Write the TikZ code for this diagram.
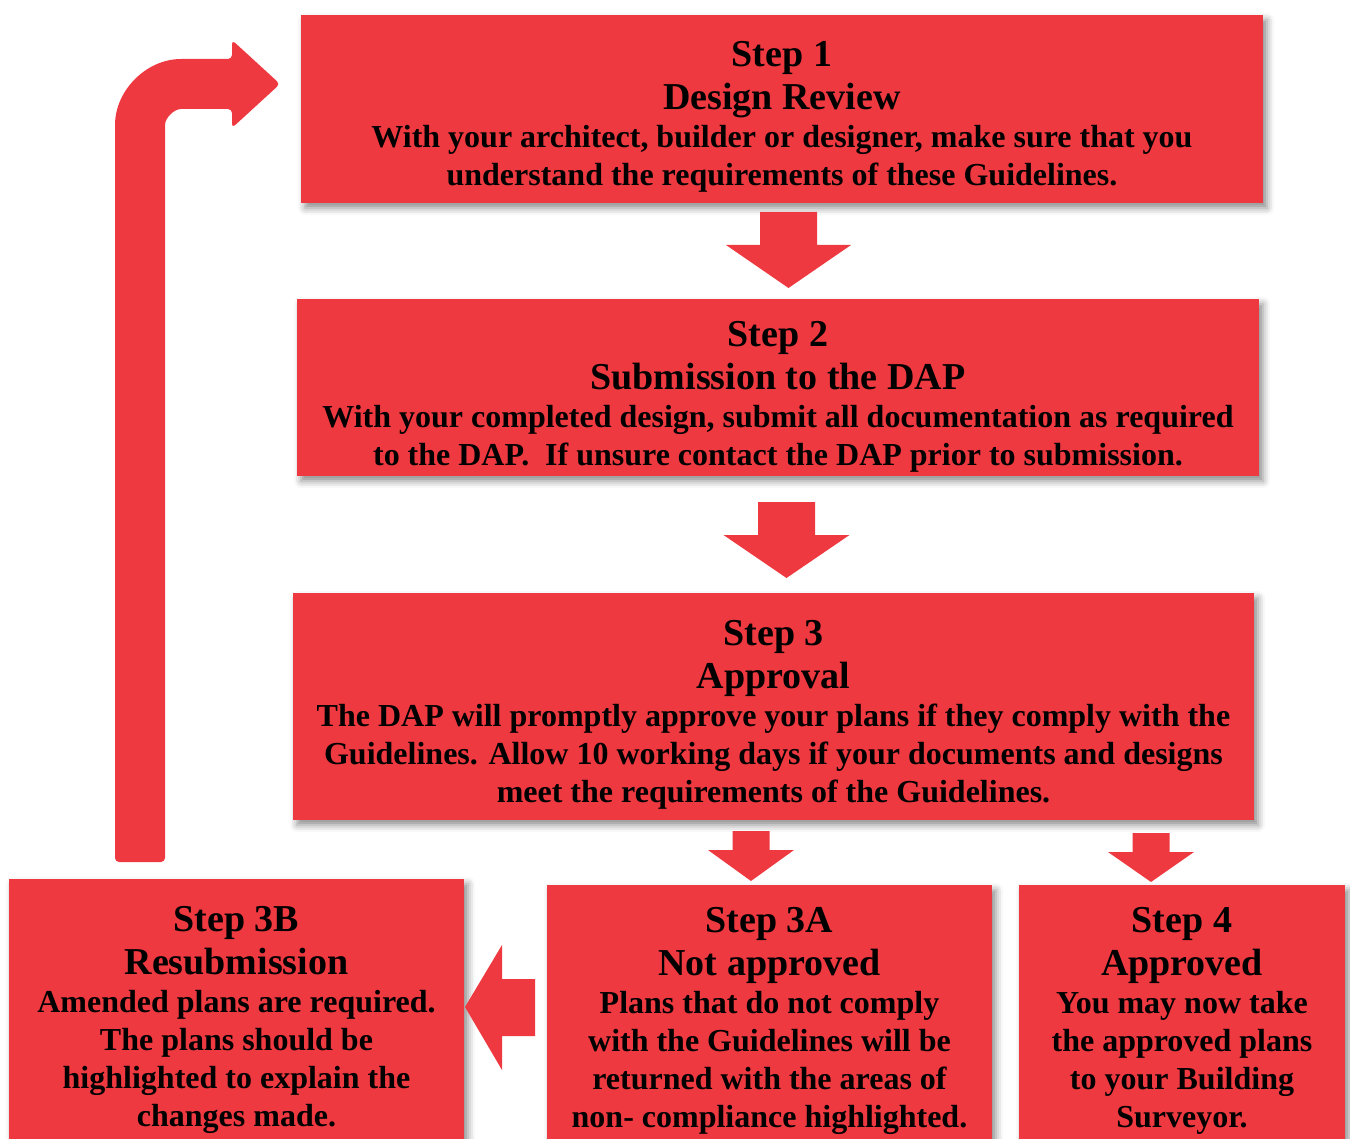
\documentclass[tikz,border=0pt]{standalone}
\usepackage{fontspec}
\setmainfont{Liberation Serif}
\usepackage{tikz}
\usetikzlibrary{shadows.blur}
\definecolor{dapred}{RGB}{239,57,64}
\tikzset{
  stepbox/.style={
    rectangle,
    fill=dapred,
    inner sep=0pt,
    text centered,
    align=center,
    font=\fontsize{32}{38}\selectfont\bfseries,
    blur shadow={shadow xshift=4pt, shadow yshift=-5pt, shadow blur radius=7pt, shadow opacity=45},
  },
  flow/.style={fill=dapred},
}
\newcommand{\steptitle}{\fontsize{38}{43}\selectfont}
% first title line, with a strut to set the text a little lower
\newcommand{\stepno}[2][32pt]{{\steptitle\rule{0pt}{#1}#2}}
% top centre, shaft half width, shaft length, head half width, head length
\newcommand{\blockdown}[5]{\fill[flow,shift={#1}] (-#2,0) -- (#2,0) -- (#2,#3) -- (#4,#3) -- (0,#3+#5) -- (-#4,#3) -- (-#2,#3) -- cycle;}

\begin{document}
\begin{tikzpicture}[x=1pt,y=-1pt]
  \useasboundingbox (0,0) rectangle (1350,1139);

  \node[stepbox, minimum width=962pt, minimum height=188pt] (S1) at (782,109)
    {\stepno[40pt]{Step 1}\\[5pt]{\steptitle Design Review}\\
     With your architect, builder or designer, make sure that you\\
     understand the requirements of these Guidelines.};
  \node[stepbox, minimum width=962pt, minimum height=177pt] (S2) at (778,387.5)
    {\stepno[44pt]{Step 2}\\[5pt]{\steptitle Submission to the DAP}\\
     With your completed design, submit all documentation as required\\
     to the DAP.\ \ If unsure contact the DAP prior to submission.};
  \node[stepbox, minimum width=961pt, minimum height=227pt] (S3) at (773.5,706.5)
    {\stepno[41pt]{Step 3}\\[5pt]{\steptitle Approval}\\
     The DAP will promptly approve your plans if they comply with the\\
     Guidelines. Allow 10 working days if your documents and designs\\
     meet the requirements of the Guidelines.};
  \node[stepbox, minimum width=455pt, minimum height=271pt] (S3B) at (236.5,1014.5)
    {\stepno[36pt]{Step 3B}\\[5pt]{\steptitle Resubmission}\\
     Amended plans are required.\\
     The plans should be\\
     highlighted to explain the\\
     changes made.};
  \node[stepbox, minimum width=445pt, minimum height=265pt] (S3A) at (769.5,1017.5)
    {\stepno{Step 3A}\\[5pt]{\steptitle Not approved}\\
     Plans that do not comply\\
     with the Guidelines will be\\
     returned with the areas of\\
     non- compliance highlighted.};
  \node[stepbox, minimum width=326pt, minimum height=265pt] (S4) at (1182,1017.5)
    {\stepno{Step 4}\\[5pt]{\steptitle Approved}\\
     You may now take\\
     the approved plans\\
     to your Building\\
     Surveyor.};

  % arrows between the steps
  \blockdown{(788.5,212)}{28.5}{33}{62.5}{43}
  \blockdown{(786.5,502)}{28.5}{33}{63}{43}
  \blockdown{(751,831)}{18.5}{19}{43}{31}
  \blockdown{(1151,833)}{18.5}{19}{43}{30}
  \fill[flow] (535,979) -- (535,1036) -- (502,1036) -- (502,1070) -- (465,1007)
    -- (502,945) -- (502,979) -- cycle;

  % back to step 1
  \fill[flow, rounded corners=4pt] (115,862) -- (115,129)
    .. controls (115,90.4) and (146.4,59) .. (185,59)
    -- (232,59) -- (232,40) -- (280,84) -- (232,128) -- (232,109) -- (185,109)
    .. controls (174,109) and (165,118) .. (165,129) -- (165,862) -- cycle;
\end{tikzpicture}
\end{document}
